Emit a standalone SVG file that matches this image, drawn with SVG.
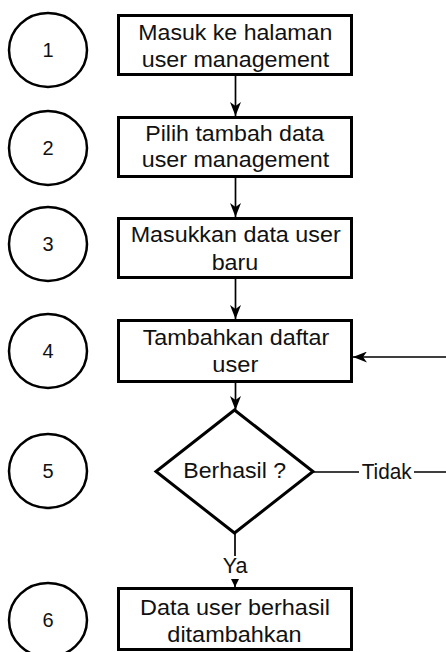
<svg xmlns="http://www.w3.org/2000/svg" width="446" height="652" viewBox="0 0 446 652">
  <style>
    .step { fill: #ffffff; stroke: #000000; stroke-width: 3; }
    .num { fill: none; stroke: #000000; stroke-width: 2.5; }
    .lbl { font-family: "Liberation Sans", Arial, sans-serif; font-size: 21.5px; fill: #111111; text-anchor: middle; }
    .digit { font-family: "Liberation Sans", Arial, sans-serif; font-size: 20px; fill: #111111; text-anchor: middle; }
    .edge { fill: none; stroke: #000000; stroke-width: 1.7; }
    .tag { fill: #ffffff; stroke: none; }
  </style>
  <defs>
    <marker id="arrow" markerUnits="userSpaceOnUse" markerWidth="14" markerHeight="11" viewBox="0 0 14 11" refX="14" refY="5.5" orient="auto">
      <path d="M0,0 L14,5.5 L0,11 L4,5.5 z" fill="#000000"/>
    </marker>
    <marker id="arrow-small" markerUnits="userSpaceOnUse" markerWidth="8" markerHeight="8" viewBox="0 0 8 8" refX="8" refY="4" orient="auto">
      <path d="M0,0 L8,4 L0,8 z" fill="#000000"/>
    </marker>
  </defs>

  <!-- step numbers -->
  <g id="num-1"><ellipse class="num" cx="48" cy="50" rx="39" ry="37"/><text class="digit" x="48" y="57">1</text></g>
  <g id="num-2"><ellipse class="num" cx="48" cy="148" rx="39" ry="37"/><text class="digit" x="48" y="155">2</text></g>
  <g id="num-3"><ellipse class="num" cx="48" cy="244" rx="39" ry="37"/><text class="digit" x="48" y="251">3</text></g>
  <g id="num-4"><ellipse class="num" cx="48" cy="351" rx="39" ry="37"/><text class="digit" x="48" y="358">4</text></g>
  <g id="num-5"><ellipse class="num" cx="48" cy="471" rx="39" ry="37"/><text class="digit" x="48" y="478">5</text></g>
  <g id="num-6"><ellipse class="num" cx="48" cy="620" rx="39" ry="37"/><text class="digit" x="48" y="627">6</text></g>

  <!-- connectors -->
  <g id="connectors">
    <line class="edge" x1="235.5" y1="76" x2="235.5" y2="116" marker-end="url(#arrow)"/>
    <line class="edge" x1="235.5" y1="178" x2="235.5" y2="217" marker-end="url(#arrow)"/>
    <line class="edge" x1="235.5" y1="279" x2="235.5" y2="319" marker-end="url(#arrow)"/>
    <line class="edge" x1="235.5" y1="383" x2="235.5" y2="410" marker-end="url(#arrow)"/>
    <path class="edge" d="M313,472 H452 V357 H353" marker-end="url(#arrow)"/>
    <line class="edge" x1="235" y1="533" x2="235" y2="587" marker-end="url(#arrow-small)"/>
    <rect class="tag" x="359" y="460" width="55" height="24"/>
    <text class="lbl" x="386.7" y="479" textLength="50" lengthAdjust="spacingAndGlyphs">Tidak</text>
    <rect class="tag" x="221" y="556" width="28" height="23"/>
    <text class="lbl" x="235" y="573" textLength="24.7" lengthAdjust="spacingAndGlyphs">Ya</text>
  </g>

  <!-- process steps -->
  <g id="step-1">
    <rect class="step" x="118.5" y="15.5" width="233" height="59"/>
    <text class="lbl" x="235.3" y="40" textLength="194" lengthAdjust="spacingAndGlyphs">Masuk ke halaman</text>
    <text class="lbl" x="235.5" y="67" textLength="187.6" lengthAdjust="spacingAndGlyphs">user management</text>
  </g>
  <g id="step-2">
    <rect class="step" x="118.5" y="117.5" width="233" height="59"/>
    <text class="lbl" x="234.7" y="141" textLength="179" lengthAdjust="spacingAndGlyphs">Pilih tambah data</text>
    <text class="lbl" x="235.5" y="167" textLength="187.6" lengthAdjust="spacingAndGlyphs">user management</text>
  </g>
  <g id="step-3">
    <rect class="step" x="118.5" y="218.5" width="233" height="59"/>
    <text class="lbl" x="235.7" y="242" textLength="210" lengthAdjust="spacingAndGlyphs">Masukkan data user</text>
    <text class="lbl" x="235" y="270" textLength="46.7" lengthAdjust="spacingAndGlyphs">baru</text>
  </g>
  <g id="step-4">
    <rect class="step" x="118.5" y="320.5" width="233" height="61"/>
    <text class="lbl" x="236" y="345" textLength="186.7" lengthAdjust="spacingAndGlyphs">Tambahkan daftar</text>
    <text class="lbl" x="235.3" y="372" textLength="46" lengthAdjust="spacingAndGlyphs">user</text>
  </g>
  <g id="decision-5">
    <polygon class="step" points="234.5,410 313,471.5 234.5,533 156,471.5"/>
    <text class="lbl" x="234.7" y="478" textLength="102.7" lengthAdjust="spacingAndGlyphs">Berhasil ?</text>
  </g>
  <g id="step-6">
    <rect class="step" x="118.5" y="588.5" width="233" height="61"/>
    <text class="lbl" x="235" y="615" textLength="190" lengthAdjust="spacingAndGlyphs">Data user berhasil</text>
    <text class="lbl" x="234.5" y="642" textLength="134.3" lengthAdjust="spacingAndGlyphs">ditambahkan</text>
  </g>
</svg>
